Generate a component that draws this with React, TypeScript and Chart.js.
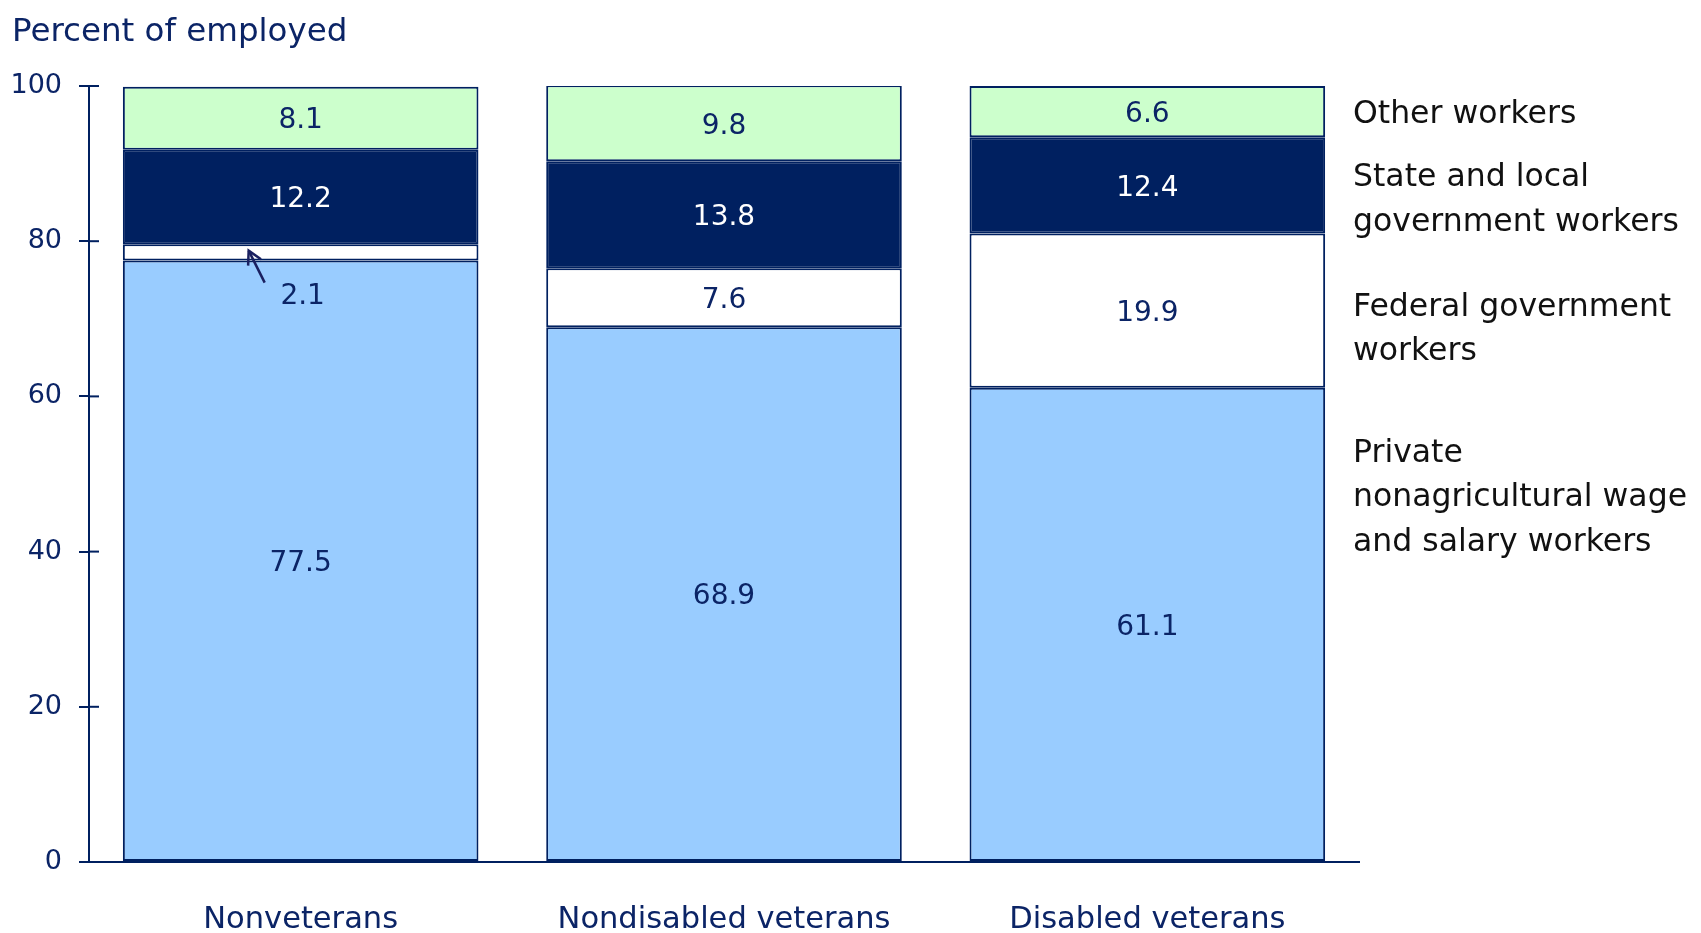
import React, { useEffect, useRef } from 'react';
import { Chart, registerables } from 'chart.js';

Chart.register(...registerables);

const categories = ['Nonveterans', 'Nondisabled veterans', 'Disabled veterans'];
const seriesNames = [
  'Private nonagricultural wage and salary workers',
  'Federal government workers',
  'State and local government workers',
  'Other workers',
];
const privateWorkers = [77.5, 68.9, 61.1];
const federalWorkers = [2.1, 7.6, 19.9];
const stateLocalWorkers = [12.2, 13.8, 12.4];
const otherWorkers = [8.1, 9.8, 6.6];
const seriesColors = ['#99ccff', '#ffffff', '#002060', '#ccffcc'];
const labelColors = ['#0b2466', '#0b2466', '#ffffff', '#0b2466'];
const yMin = 0;
const yMax = 100;
const yStep = 20;
const titleText = 'Percent of employed';
const legendLines = [
  ['Other workers'],
  ['State and local', 'government workers'],
  ['Federal government', 'workers'],
  ['Private', 'nonagricultural wage', 'and salary workers'],
];
const legendAnchors = [96.3, 85.3, 68.6, 46.9];

const NAVY = '#002060';
const TEXT_NAVY = '#0b2466';
const FONT = "'DejaVu Sans', Verdana, sans-serif";

const overlayPlugin = {
  id: 'overlay',
  afterDatasetsDraw(chart: any) {
    const ctx = chart.ctx;
    ctx.save();
    ctx.textAlign = 'center';
    ctx.textBaseline = 'middle';
    ctx.font = `28px ${FONT}`;
    chart.data.datasets.forEach((ds: any, i: number) => {
      const meta = chart.getDatasetMeta(i);
      meta.data.forEach((el: any, j: number) => {
        const v = ds.data[j];
        const top = el.y;
        const base = el.base;
        const h = Math.abs(base - top);
        const text = v.toFixed(1);
        if (h < 30) {
          ctx.fillStyle = TEXT_NAVY;
          ctx.fillText(text, el.x + 2, base + 36);
          const tipX = el.x - 52;
          const tipY = base - 10;
          const tailX = el.x - 36;
          const tailY = base + 22;
          ctx.strokeStyle = '#1a2060';
          ctx.lineWidth = 2.5;
          ctx.beginPath();
          ctx.moveTo(tailX, tailY);
          ctx.lineTo(tipX, tipY);
          ctx.stroke();
          const ang = Math.atan2(tipY - tailY, tipX - tailX);
          const hl = 15;
          ctx.beginPath();
          ctx.moveTo(tipX + hl * Math.cos(ang + Math.PI - 0.5), tipY + hl * Math.sin(ang + Math.PI - 0.5));
          ctx.lineTo(tipX, tipY);
          ctx.lineTo(tipX + hl * Math.cos(ang + Math.PI + 0.5), tipY + hl * Math.sin(ang + Math.PI + 0.5));
          ctx.stroke();
        } else {
          ctx.fillStyle = labelColors[i];
          ctx.fillText(text, el.x, (top + base) / 2 + 3);
        }
      });
    });
    ctx.restore();
  },
  afterDraw(chart: any) {
    const ctx = chart.ctx;
    const ys = chart.scales.y;
    ctx.save();
    ctx.strokeStyle = NAVY;
    ctx.lineWidth = 2;
    for (let v = yMin; v <= yMax; v += yStep) {
      const py = ys.getPixelForValue(v);
      ctx.beginPath();
      ctx.moveTo(ys.right, py);
      ctx.lineTo(ys.right + 10, py);
      ctx.stroke();
    }
    ctx.fillStyle = TEXT_NAVY;
    ctx.font = `32.5px ${FONT}`;
    ctx.textAlign = 'left';
    ctx.textBaseline = 'alphabetic';
    ctx.fillText(titleText, 12, 41);
    ctx.fillStyle = '#111111';
    ctx.font = `31.5px ${FONT}`;
    ctx.textBaseline = 'middle';
    const lh = 44.5;
    const lx = chart.chartArea.right - 6;
    legendLines.forEach((lines, k) => {
      const cy = ys.getPixelForValue(legendAnchors[k]);
      const startY = cy - ((lines.length - 1) * lh) / 2;
      lines.forEach((ln, m) => {
        ctx.fillText(ln, lx, startY + m * lh);
      });
    });
    ctx.restore();
  },
};

export default function App() {
  const ref = useRef<HTMLCanvasElement | null>(null);
  useEffect(() => {
    if (!ref.current) return;
    const seriesData = [privateWorkers, federalWorkers, stateLocalWorkers, otherWorkers];
    const chart = new Chart(ref.current, {
      type: 'bar',
      data: {
        labels: categories,
        datasets: seriesData.map((d, i) => ({
          label: seriesNames[i],
          data: d,
          backgroundColor: seriesColors[i],
          borderColor: NAVY,
          borderWidth: 2,
          borderSkipped: false,
          categoryPercentage: 1,
          barPercentage: 0.84,
        })),
      },
      options: {
        responsive: false,
        animation: false,
        layout: { padding: { top: 86, right: 342, left: 0, bottom: 0 } },
        plugins: {
          legend: { display: false },
          tooltip: { enabled: false },
          title: { display: false },
        },
        scales: {
          x: {
            stacked: true,
            grid: { display: false, drawTicks: false },
            border: { display: true, color: NAVY, width: 2 },
            ticks: {
              color: TEXT_NAVY,
              font: { family: FONT, size: 30.5 },
              padding: 40,
              maxRotation: 0,
            },
            afterFit: (s: any) => {
              s.height = 71;
            },
          },
          y: {
            stacked: true,
            min: yMin,
            max: yMax,
            grid: {
              display: true,
              drawOnChartArea: false,
              drawTicks: true,
              tickLength: 10,
              color: NAVY,
              lineWidth: 2,
            },
            border: { display: true, color: NAVY, width: 2 },
            ticks: {
              stepSize: yStep,
              color: TEXT_NAVY,
              font: { family: FONT, size: 27 },
              padding: 17,
            },
            afterFit: (s: any) => {
              s.width = 89;
            },
          },
        },
      },
      plugins: [overlayPlugin],
    });
    return () => chart.destroy();
  }, []);
  return (
    <div style={{ position: 'absolute', left: 0, top: 0, width: 1701, height: 933, background: '#fff' }}>
      <canvas ref={ref} width={1701} height={933} style={{ display: 'block' }} />
    </div>
  );
}
